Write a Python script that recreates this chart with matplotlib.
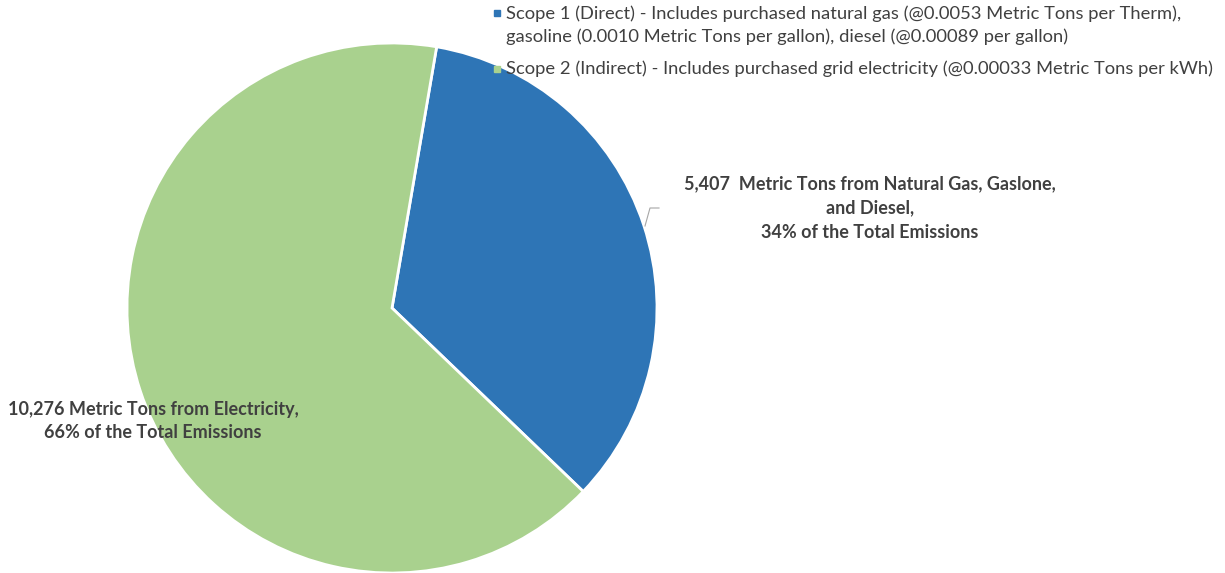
import matplotlib.pyplot as plt
from matplotlib.patches import Rectangle

# Emission sources (metric tons CO2e)
fuentes = ['Scope 1 (Direct)', 'Scope 2 (Indirect)']
toneladas = [5407, 10276]
colores = ['#2E75B6', '#A9D18E']
leyendas = [
    'Scope 1 (Direct) - Includes purchased natural gas (@0.0053 Metric Tons per Therm),\n'
    'gasoline (0.0010 Metric Tons per gallon), diesel (@0.00089 per gallon)',
    'Scope 2 (Indirect) - Includes purchased grid electricity (@0.00033 Metric Tons per kWh)',
]
etiquetas = [
    '5,407  Metric Tons from Natural Gas, Gaslone,\nand Diesel,\n34% of the Total Emissions',
    '10,276 Metric Tons from Electricity,\n66% of the Total Emissions',
]

plt.rcParams['font.family'] = ['Lato', 'DejaVu Sans']
ancho, alto = 1225, 573
fig = plt.figure(figsize=(ancho / 100, alto / 100), dpi=100)

# pie axes placed in pixel units: center (392, 308), radius 265
cx, cy, r = 392, 308, 265
ax = fig.add_axes([(cx - r) / ancho, (alto - cy - r) / alto, 2 * r / ancho, 2 * r / alto])
ax.pie(toneladas, colors=colores, startangle=80.3, counterclock=False,
       wedgeprops=dict(edgecolor='white', linewidth=2))
ax.set_xlim(-1, 1)
ax.set_ylim(-1, 1)
ax.set_aspect('equal')
ax.axis('off')

gris = '#404040'

def px(x, y):
    return x / ancho, 1 - y / alto

# data labels
fig.text(*px(870, 208), etiquetas[0], ha='center', va='center', fontsize=13,
         fontweight='bold', color=gris, linespacing=1.5)
fig.text(*px(153, 421), etiquetas[1], ha='center', va='center', fontsize=13,
         fontweight='bold', color=gris, linespacing=1.5)

# leader line for the Scope 1 label
x0, y0 = px(645, 226)
x1, y1 = px(650, 208)
x2, y2 = px(659, 208)
fig.add_artist(plt.Line2D([x0, x1, x2], [y0, y1, y2], color='#A6A6A6', lw=0.8))

# legend
for i, (texto, color) in enumerate(zip(leyendas, colores)):
    ytop = [13, 69][i]
    ycen = [25, 69][i]
    mx, my = px(494, ytop + 3)
    fig.add_artist(Rectangle((mx, my), 6 / ancho, 6 / alto, color=color,
                             transform=fig.transFigure))
    fig.text(*px(506, ycen), texto, ha='left', va='center', fontsize=13.2,
             color=gris, linespacing=1.5)

fig.savefig('out.png', dpi=100)
